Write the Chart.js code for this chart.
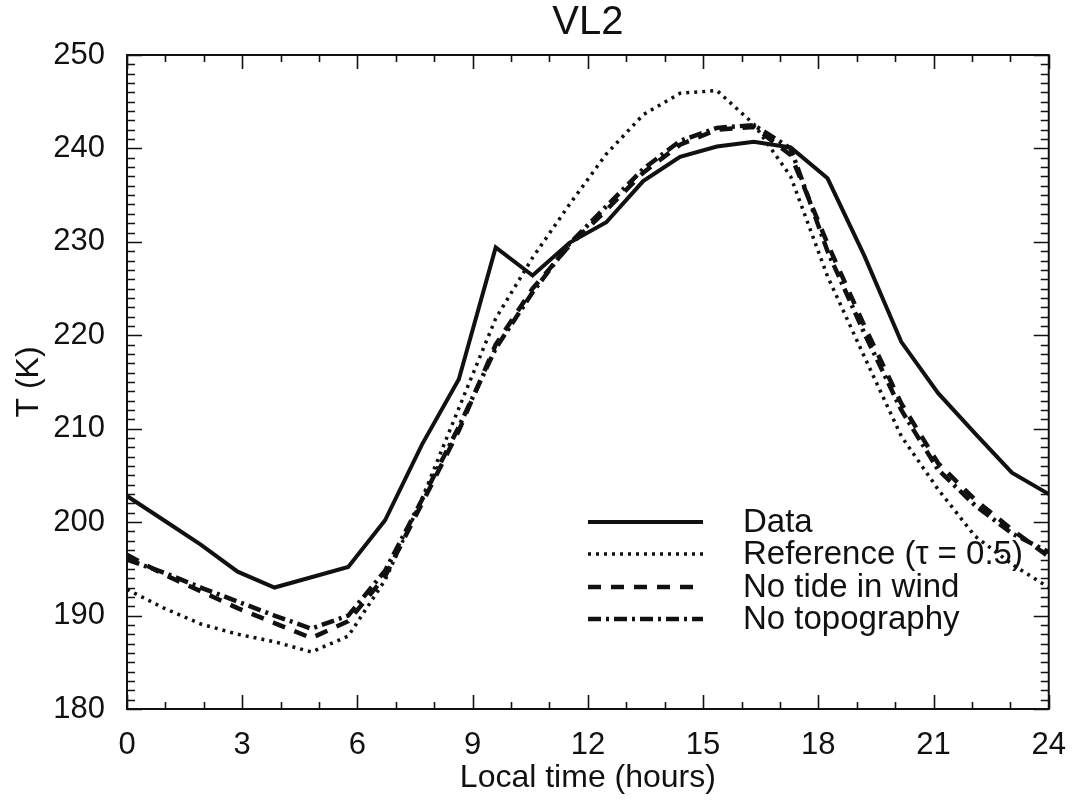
<!DOCTYPE html>
<html>
<head>
<meta charset="utf-8">
<script src="https://cdn.jsdelivr.net/npm/chart.js@4.4.0/dist/chart.umd.min.js"></script>
<style>
html, body { margin: 0; padding: 0; background: #fff; }
</style>
</head>
<body>
<canvas id="mycanvas" width="1076" height="800"></canvas>
<script>
// VL2 - temperature over one sol
var hours = [0, 0.96, 1.92, 2.88, 3.84, 4.8, 5.76, 6.72, 7.68, 8.64, 9.6, 10.56, 11.52, 12.48, 13.44, 14.4, 15.36, 16.32, 17.28, 18.24, 19.2, 20.16, 21.12, 22.08, 23.04, 24];
var tData = [202.8, 200.2, 197.6, 194.7, 193.0, 194.1, 195.2, 200.2, 208.3, 215.3, 229.4, 226.4, 229.9, 232.1, 236.5, 239.1, 240.2, 240.7, 240.1, 236.8, 228.5, 219.3, 213.8, 209.5, 205.3, 203.0];
var tReference = [192.8, 190.8, 189.1, 188.0, 187.2, 186.1, 187.8, 193.8, 202.5, 212.2, 221.8, 228.3, 234.0, 239.4, 243.6, 245.9, 246.2, 242.6, 237.0, 226.3, 217.7, 209.2, 203.5, 198.5, 195.5, 193.0];
var tNoTide = [196.5, 194.4, 192.6, 190.8, 189.2, 187.6, 189.4, 194.2, 202.0, 209.8, 219.0, 225.0, 229.6, 233.4, 237.4, 240.4, 242.0, 242.3, 239.3, 229.8, 221.0, 212.7, 206.3, 202.4, 199.2, 196.3];
var tNoTopo = [196.0, 194.6, 193.0, 191.5, 190.0, 188.6, 190.0, 194.8, 202.4, 210.2, 218.6, 224.6, 229.8, 233.8, 237.8, 240.8, 242.2, 242.5, 240.0, 229.0, 220.2, 212.0, 205.6, 201.8, 198.8, 196.8];

var seriesNames = ["Data", "Reference (\u03c4 = 0.5)", "No tide in wind", "No topography"];
var xTicks = [0, 3, 6, 9, 12, 15, 18, 21, 24];
var yTicks = [180, 190, 200, 210, 220, 230, 240, 250];

var FONT = "'Liberation Sans', Arial, Helvetica, sans-serif";

function pts(arr) {
	var out = [];
	for (var i = 0; i < hours.length; i++) {
		out.push({x: hours[i], y: arr[i]});
	}
	return out;
}

var styles = [
	{width: 4, dash: []},
	{width: 3.5, dash: [3, 5]},
	{width: 4.5, dash: [13, 10]},
	{width: 4.5, dash: [13, 5, 3, 5]}
];
var series = [tData, tReference, tNoTide, tNoTopo];

var datasets = [];
for (var s = 0; s < series.length; s++) {
	datasets.push({
		label: seriesNames[s],
		data: pts(series[s]),
		borderColor: '#111',
		borderWidth: styles[s].width,
		borderDash: styles[s].dash,
		borderCapStyle: 'butt',
		borderJoinStyle: 'miter',
		pointRadius: 0,
		tension: 0,
		fill: false
	});
}

// frame with inward ticks, title and legend (IDL look)
var framePlugin = {
	id: 'frame',
	afterDraw: function(chart) {
		var ctx = chart.ctx;
		var a = chart.chartArea;
		var xs = chart.scales.x, ys = chart.scales.y;
		ctx.save();
		ctx.strokeStyle = '#111';
		ctx.lineWidth = 2;
		ctx.setLineDash([]);
		ctx.strokeRect(a.left, a.top, a.right - a.left, a.bottom - a.top);

		ctx.lineWidth = 1.6;
		ctx.beginPath();
		for (var h = 0; h <= 24; h++) {
			var x = Math.round(xs.getPixelForValue(h)) + 0.5;
			var len = (h % 3 === 0) ? 14 : 7;
			ctx.moveTo(x, a.bottom); ctx.lineTo(x, a.bottom - len);
			ctx.moveTo(x, a.top); ctx.lineTo(x, a.top + len);
		}
		for (var t = 180; t <= 250; t++) {
			var y = Math.round(ys.getPixelForValue(t)) + 0.5;
			var l2 = (t % 10 === 0) ? 15 : 8;
			ctx.moveTo(a.left, y); ctx.lineTo(a.left + l2, y);
			ctx.moveTo(a.right, y); ctx.lineTo(a.right - l2, y);
		}
		ctx.stroke();

		// title
		ctx.fillStyle = '#111';
		ctx.font = '40px ' + FONT;
		ctx.textAlign = 'center';
		ctx.textBaseline = 'middle';
		ctx.fillText('VL2', (a.left + a.right) / 2, 23);

		// legend
		var rowY = [522, 554, 587, 619];
		ctx.font = '33px ' + FONT;
		ctx.textAlign = 'left';
		for (var i = 0; i < datasets.length; i++) {
			ctx.lineWidth = styles[i].width;
			ctx.setLineDash(styles[i].dash);
			ctx.lineCap = 'butt';
			ctx.beginPath();
			ctx.moveTo(588, rowY[i]);
			ctx.lineTo(703, rowY[i]);
			ctx.stroke();
			ctx.setLineDash([]);
			ctx.fillText(seriesNames[i], 743, rowY[i] + 1);
		}
		ctx.restore();
	}
};

var ctx = document.getElementById('mycanvas');
var chart = new Chart(ctx, {
	type: 'line',
	data: {datasets: datasets},
	plugins: [framePlugin],
	options: {
		responsive: false,
		animation: false,
		layout: {padding: {left: 0, right: 26, top: 55, bottom: 0}},
		plugins: {legend: {display: false}, tooltip: {enabled: false}},
		scales: {
			x: {
				type: 'linear',
				min: 0, max: 24,
				afterBuildTicks: function(scale) {
					scale.ticks = xTicks.map(function(v) { return {value: v}; });
				},
				afterFit: function(scale) { scale.height = 91; },
				grid: {display: false},
				border: {display: false},
				ticks: {
					color: '#111',
					font: {family: FONT, size: 31},
					padding: 10,
					maxRotation: 0,
					autoSkip: false
				},
				title: {
					display: true,
					text: 'Local time (hours)',
					color: '#111',
					font: {family: FONT, size: 32},
					padding: {top: 0, bottom: 3}
				}
			},
			y: {
				min: 180, max: 250,
				afterBuildTicks: function(scale) {
					scale.ticks = yTicks.map(function(v) { return {value: v}; });
				},
				afterFit: function(scale) { scale.width = 127; },
				grid: {display: false},
				border: {display: false},
				ticks: {
					color: '#111',
					font: {family: FONT, size: 31},
					padding: 14
				},
				title: {
					display: true,
					text: 'T (K)',
					color: '#111',
					font: {family: FONT, size: 32},
					padding: {top: 10, bottom: 0}
				}
			}
		}
	}
});
</script>
</body>
</html>
